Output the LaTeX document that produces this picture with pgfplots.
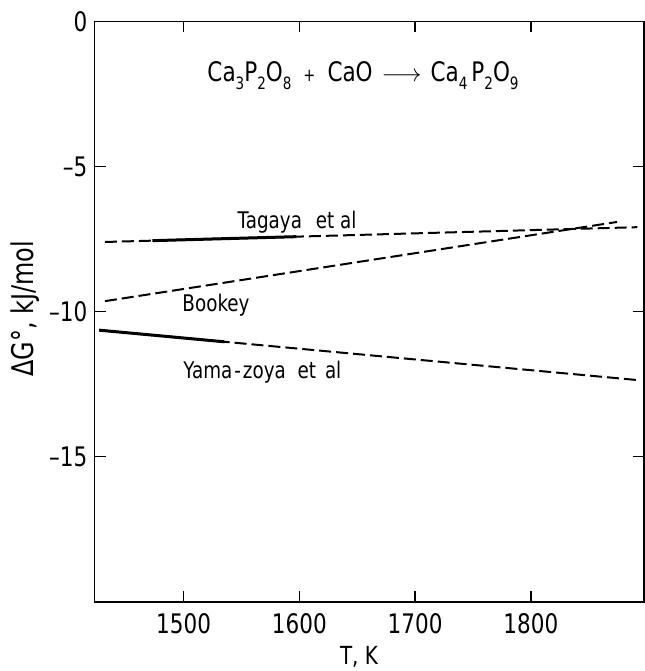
\documentclass[border=0pt]{standalone}
\usepackage{pgfplots}
\pgfplotsset{compat=1.18}
\usepackage{fontspec}
\setmainfont[FakeStretch=0.8]{DejaVu Sans}
\newcommand\sub[1]{\raisebox{-0.32em}{\fontsize{17}{17}\selectfont #1}}
\begin{document}
\begin{tikzpicture}
\begin{axis}[
  scale only axis,
  width=549.8bp, height=580.2bp,
  xmin=1423, xmax=1898, ymin=-20, ymax=0,
  axis line style={line width=1.9bp},
  xtick={1500,1600,1700,1800},
  ytick={-15,-10,-5,0},
  yticklabels={–15,–10,–5,0},
  tick align=inside,
  major tick length=11bp,
  every tick/.style={black, line width=1.4bp},
  xticklabel style={inner sep=0pt, anchor=north, yshift=-12bp, font=\fontsize{27}{27}\selectfont},
  yticklabel style={inner sep=0pt, anchor=east, xshift=-7bp, font=\fontsize{27}{27}\selectfont},
  /pgf/number format/assume math mode=true,
  /pgf/number format/1000 sep={},
  xlabel={T, K},
  xlabel style={at={(rel axis cs:0.481,0)}, anchor=north, inner sep=0pt, yshift=-44bp, font=\fontsize{25}{25}\selectfont},
  ylabel={ΔG°, kJ/mol},
  ylabel style={at={(rel axis cs:-0.1264,0.5045)}, anchor=center, inner sep=0pt, font=\fontsize{30}{30}\selectfont},
  clip=false,
]
% Tagaya et al: dashed full line, solid measured range
\addplot[black, line width=2bp, dash pattern=on 12bp off 5bp] coordinates {(1432,-7.60) (1892,-7.09)};
\addplot[black, line width=3bp] coordinates {(1473,-7.555) (1597.5,-7.417)};
% Bookey
\addplot[black, line width=2bp, dash pattern=on 12bp off 5bp] coordinates {(1432,-9.64) (1874.5,-6.91)};
% Yama-zoya et al
\addplot[black, line width=2bp, dash pattern=on 12bp off 5bp] coordinates {(1427,-10.64) (1892,-12.36)};
\addplot[black, line width=3bp] coordinates {(1427,-10.64) (1535,-11.04)};
\node[anchor=base, inner sep=0pt, font=\fontsize{27}{27}\selectfont] at (axis cs:1655,-2.06)
  {Ca\sub{3}P\sub{2}O\sub{8}\hspace{12bp}{\fontsize{18}{18}\selectfont +}\hspace{12bp}CaO\hspace{9bp}$\longrightarrow$\hspace{9bp}Ca\sub{4}\hspace{4bp}P\sub{2}O\sub{9}};
\node[anchor=base, inner sep=0pt, font=\fontsize{23}{23}\selectfont] at (axis cs:1598,-7.15) {Tagaya\hspace{8bp} et al};
\node[anchor=base, inner sep=0pt, font=\fontsize{23}{23}\selectfont] at (axis cs:1528,-9.98) {Bookey};
\node[anchor=base, inner sep=0pt, font=\fontsize{23}{23}\selectfont] at (axis cs:1568,-12.30) {Yama\hspace{2bp}-\hspace{2bp}zoya\hspace{6bp} et\hspace{3bp} al};
\coordinate (bl) at (rel axis cs:0,0);
\coordinate (tr) at (rel axis cs:1,1);
\end{axis}
\pgfresetboundingbox
\path[use as bounding box] ([xshift=-94.5bp,yshift=-69.3bp]bl) rectangle ([xshift=0.7bp,yshift=21.5bp]tr);
\end{tikzpicture}
\end{document}
